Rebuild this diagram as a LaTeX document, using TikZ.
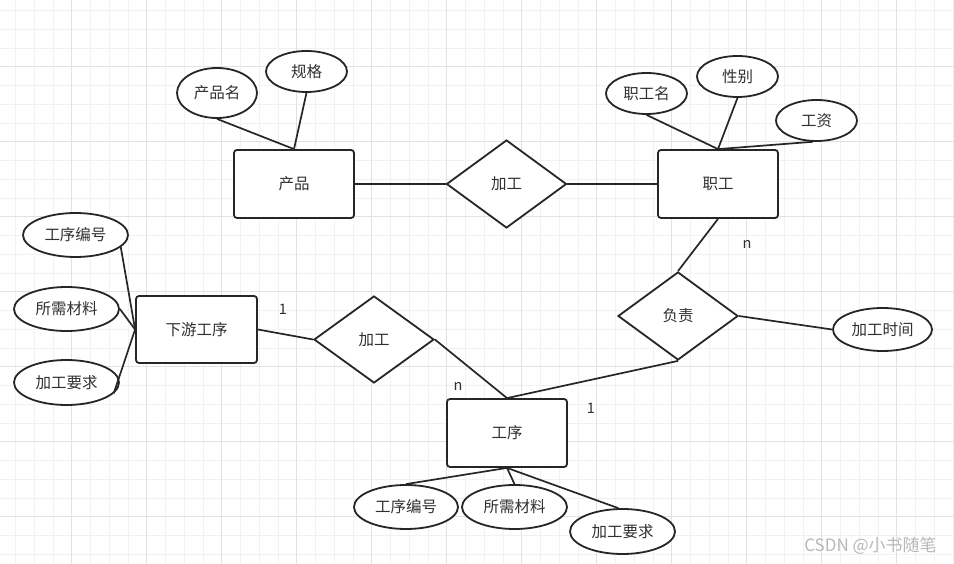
\documentclass[tikz,border=0pt]{standalone}
\usepackage{fontspec}
\setmainfont{Noto Sans CJK SC}
\usetikzlibrary{shapes.geometric}
\definecolor{ln}{HTML}{262626}
\definecolor{tx}{HTML}{303030}
\definecolor{gmaj}{HTML}{E2E2E2}
\definecolor{gmin}{HTML}{F1F1F1}
\tikzset{
  ent/.style={draw=ln,line width=1.8pt,rounded corners=3pt,minimum width=120pt,minimum height=68pt,inner sep=0pt,fill=white,text=tx,font=\fontsize{15.5}{15.5}\selectfont},
  rel/.style={draw=ln,line width=1.8pt,diamond,minimum width=120pt,minimum height=88pt,inner sep=0pt,fill=white,text=tx,font=\fontsize{15.5}{15.5}\selectfont},
  attr/.style={draw=ln,line width=1.8pt,ellipse,inner sep=0pt,fill=white,text=tx,font=\fontsize{15.5}{15.5}\selectfont},
  conn/.style={draw=ln,line width=1.7pt},
  card/.style={text=tx,font=\fontsize{14.5}{14.5}\selectfont,inner sep=0pt}
}
\begin{document}
\begin{tikzpicture}[x=1pt,y=-1pt]
\useasboundingbox (0,0) rectangle (954,564);
\fill[white] (0,0) rectangle (954,564);
% grid
\foreach \i in {0,...,50} {
  \pgfmathsetmacro{\gx}{15.45+18.75*\i}
  \draw[gmin,line width=0.8pt] (\gx,0) -- (\gx,564);
}
\foreach \i in {0,...,30} {
  \pgfmathsetmacro{\gy}{10.45+18.75*\i}
  \draw[gmin,line width=0.8pt] (0,\gy) -- (954,\gy);
}
\foreach \i in {0,...,12} {
  \pgfmathsetmacro{\gx}{71.7+75*\i}
  \draw[gmaj,line width=1pt] (\gx,0) -- (\gx,564);
}
\foreach \i in {0,...,8} {
  \pgfmathsetmacro{\gy}{-8.3+75*\i}
  \draw[gmaj,line width=1pt] (0,\gy) -- (954,\gy);
}
% nodes
\node[ent] (prod) at (294,184) {产品};
\node[rel] (jg1) at (506.5,184) {加工};
\node[ent] (emp) at (718,184) {职工};
\node[attr,minimum width=80pt,minimum height=50pt] (pname) at (217,93) {产品名};
\node[attr,minimum width=81pt,minimum height=41pt] (spec) at (306.5,71.5) {规格};
\node[attr,minimum width=81pt,minimum height=41pt] (ename) at (646.5,93.5) {职工名};
\node[attr,minimum width=81pt,minimum height=41pt] (sex) at (737.5,76.5) {性别};
\node[attr,minimum width=81pt,minimum height=41pt] (wage) at (816.5,120.5) {工资};
\node[rel] (fz) at (678,316) {负责};
\node[attr,minimum width=99pt,minimum height=43pt] (jgtime) at (882.5,329.5) {加工时间};
\node[ent,minimum width=121pt,minimum height=67pt] (down) at (196.5,329.5) {下游工序};
\node[rel,minimum height=87pt] (jg2) at (374,339.5) {加工};
\node[ent] (proc) at (507,433) {工序};
\node[attr,minimum width=105pt,minimum height=44pt] (a1) at (75.5,235) {工序编号};
\node[attr,minimum width=105pt,minimum height=44pt] (a2) at (66.5,309) {所需材料};
\node[attr,minimum width=105pt,minimum height=45pt] (a3) at (66.5,382.5) {加工要求};
\node[attr,minimum width=104pt,minimum height=44pt] (b1) at (406,507) {工序编号};
\node[attr,minimum width=105pt,minimum height=44pt] (b2) at (514.5,507) {所需材料};
\node[attr,minimum width=105pt,minimum height=45pt] (b3) at (622.5,531.5) {加工要求};
% cardinalities
\node[card] (n1) at (747,244) {n};
\node[card] (c1) at (591,408) {1};
\node[card] (n2) at (458,386) {n};
\node[card] (c2) at (283,309) {1};
\node[text=black!28,font=\fontsize{17}{17}\selectfont,inner sep=0pt] (wm) at (870.5,546) {CSDN @小书随笔};
% connectors
\draw[conn] (prod.east) -- (jg1.west);
\draw[conn] (jg1.east) -- (emp.west);
\draw[conn] (pname.south) -- (prod.north);
\draw[conn] (spec.south) -- (prod.north);
\draw[conn] (ename.south) -- (emp.north);
\draw[conn] (sex.south) -- (emp.north);
\draw[conn] (wage.-100) -- (emp.north);
\draw[conn] (emp.south) -- (fz.north);
\draw[conn] (fz.east) -- (jgtime.west);
\draw[conn] (fz.south) -- (proc.north);
\draw[conn] (down.east) -- (jg2.west);
\draw[conn] (jg2.east) -- (proc.north);
\draw[conn] (a1.-15) -- (down.west);
\draw[conn] (a2.east) -- (down.west);
\draw[conn] (a3.-13) -- (down.west);
\draw[conn] (proc.south) -- (b1.north);
\draw[conn] (proc.south) -- (b2.north);
\draw[conn] (proc.south) -- (b3.100);
\end{tikzpicture}
\end{document}
